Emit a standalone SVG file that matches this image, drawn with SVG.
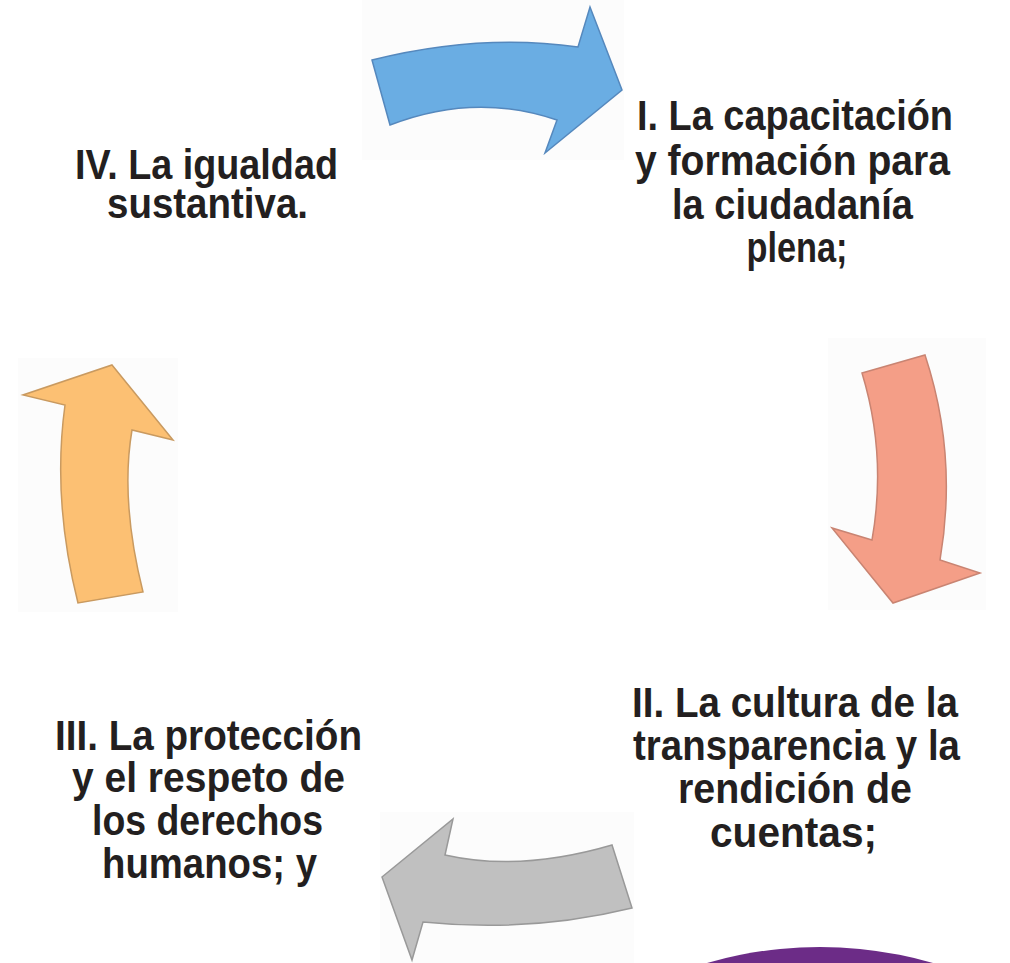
<svg xmlns="http://www.w3.org/2000/svg" width="1010" height="963" viewBox="0 0 1010 963">
<style>
.lbl{font-family:"Liberation Sans Narrow","Liberation Sans",Arial,sans-serif;font-weight:bold;font-size:42px;fill:#231f20;text-anchor:middle}
.arr{stroke-width:1.5;stroke-linejoin:miter}
.bg{fill:#fcfcfc}
</style>
<rect width="1010" height="963" fill="#ffffff"/>
<g id="backgrounds">
<rect class="bg" x="362" y="0" width="262" height="160"/>
<rect class="bg" x="828" y="338" width="158" height="272"/>
<rect class="bg" x="380" y="812" width="254" height="151"/>
<rect class="bg" x="18" y="358" width="160" height="254"/>
</g>
<g id="connectors">
<path id="arrow-blue" class="arr" fill="#6aade3" stroke="#5588bd" d="M372 60 Q480 33 578 47 L590 7 L622 90 L545 153 L557 120 Q475 92 390 125 Z"/>
<path id="arrow-salmon" class="arr" fill="#f49e87" stroke="#c98472" d="M862 373 L925 355 Q958 455 940 560 L980 573 L893 603 L832 528 L872 540 Q887 455 862 373 Z"/>
<path id="arrow-gray" class="arr" fill="#c0c0c0" stroke="#999999" d="M382 877 L453 819 L445 855 Q520 872 612 845 L632 908 Q530 933 423 922 L412 960 Z"/>
<path id="arrow-orange" class="arr" fill="#fcc073" stroke="#c99a60" d="M112 365 L173 440 L132 430 Q120 500 143 592 L78 603 Q52 500 65 405 L23 395 Z"/>
</g>
<g id="node-1">
<text class="lbl"><tspan x="795" y="130" textLength="316" lengthAdjust="spacingAndGlyphs">I. La capacitación</tspan><tspan x="792.5" y="175" textLength="315" lengthAdjust="spacingAndGlyphs">y formación para</tspan><tspan x="792.5" y="219" textLength="241" lengthAdjust="spacingAndGlyphs">la ciudadanía</tspan><tspan x="797" y="262" textLength="101" lengthAdjust="spacingAndGlyphs">plena;</tspan></text>
</g>
<g id="node-2">
<text class="lbl"><tspan x="795" y="717" textLength="326" lengthAdjust="spacingAndGlyphs">II. La cultura de la</tspan><tspan x="796.5" y="760" textLength="327" lengthAdjust="spacingAndGlyphs">transparencia y la</tspan><tspan x="795" y="803" textLength="234" lengthAdjust="spacingAndGlyphs">rendición de</tspan><tspan x="793.5" y="847" textLength="167" lengthAdjust="spacingAndGlyphs">cuentas;</tspan></text>
</g>
<g id="node-3">
<text class="lbl"><tspan x="208.5" y="750" textLength="307" lengthAdjust="spacingAndGlyphs">III. La protección</tspan><tspan x="208.5" y="792" textLength="273" lengthAdjust="spacingAndGlyphs">y el respeto de</tspan><tspan x="207.5" y="835" textLength="231" lengthAdjust="spacingAndGlyphs">los derechos</tspan><tspan x="209.5" y="878" textLength="215" lengthAdjust="spacingAndGlyphs">humanos; y</tspan></text>
</g>
<g id="node-4">
<text class="lbl"><tspan x="206.5" y="179" textLength="263" lengthAdjust="spacingAndGlyphs">IV. La igualdad</tspan><tspan x="207.5" y="218" textLength="201" lengthAdjust="spacingAndGlyphs">sustantiva.</tspan></text>
</g>
<g id="purple-shape">
<circle cx="820" cy="1354" r="407" fill="#6c2c87"/>
</g>
</svg>
